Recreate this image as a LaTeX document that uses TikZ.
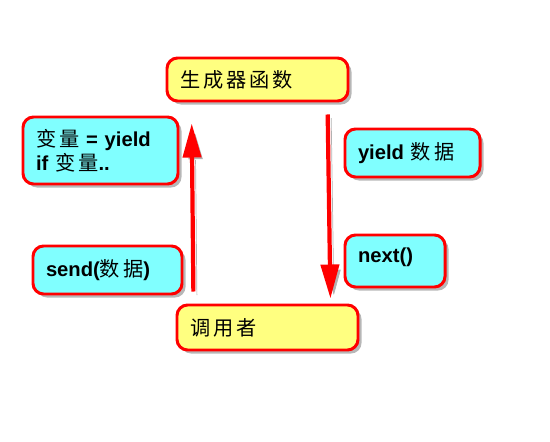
\documentclass[tikz,border=0pt]{standalone}
\usepackage{fontspec}
\setmainfont{Liberation Sans}
\newfontfamily\zhfont[LetterSpace=15]{Noto Sans CJK SC}
\newcommand\zh[1]{{\zhfont\mdseries #1}}
\usetikzlibrary{arrows.meta,calc,shadows}
\definecolor{boxred}{RGB}{255,0,0}
\definecolor{genyellow}{RGB}{255,255,128}
\definecolor{msgcyan}{RGB}{128,255,255}

\tikzset{
  box/.style={draw=boxred, line width=1.7pt, rounded corners=6pt, inner xsep=0.26cm,
    align=left, font=\fontsize{11.5}{13.8}\selectfont\bfseries,
    drop shadow={shadow xshift=2pt, shadow yshift=-2pt, opacity=0.4, fill=black!70}},
  rolebox/.style={box, fill=genyellow},
  msgbox/.style={box, fill=msgcyan},
  flow/.style={draw=boxred, line width=2.4pt, -{Triangle[width=0.36cm,length=0.68cm]},
    preaction={draw=black!30, transform canvas={shift={(2pt,-2pt)}}}},
}

\begin{document}
\begin{tikzpicture}
  \useasboundingbox (0,0) rectangle (11,-8.84);

  % generator and caller
  \node[rolebox, text width=3.10cm, minimum height=0.86cm] (gen) at (5.15,-1.59) {\zh{生成器函数}};
  \node[rolebox, text width=3.10cm, minimum height=0.90cm] (caller) at (5.35,-6.55) {\zh{调用者}};

  % messages
  \node[msgbox, text width=2.58cm, minimum height=1.34cm] (assign) at (2.01,-3.01) {\zh{变量} = yield\\if \zh{变量}..};
  \node[msgbox, text width=2.46cm, minimum height=0.96cm] (send) at (2.15,-5.40) {send(\zh{数据})};
  \node[msgbox, text width=2.18cm, minimum height=0.96cm] (yielddata) at (8.25,-3.06) {yield \zh{数据}};
  \node[msgbox, text width=1.48cm, minimum height=1.04cm, text depth=0.22cm] (next) at (7.90,-5.22) {next()};

  % flow between caller and generator
  \draw[flow, shorten <=0.24cm, shorten >=0.42cm]
    ($(caller.north west)+(0.36,0)$) -- ($(gen.south west)+(0.52,0)$);
  \draw[flow, shorten <=0.24cm, shorten >=0.10cm]
    ($(gen.south west)+(3.24,0)$) -- ($(caller.north west)+(3.10,0)$);
\end{tikzpicture}
\end{document}
